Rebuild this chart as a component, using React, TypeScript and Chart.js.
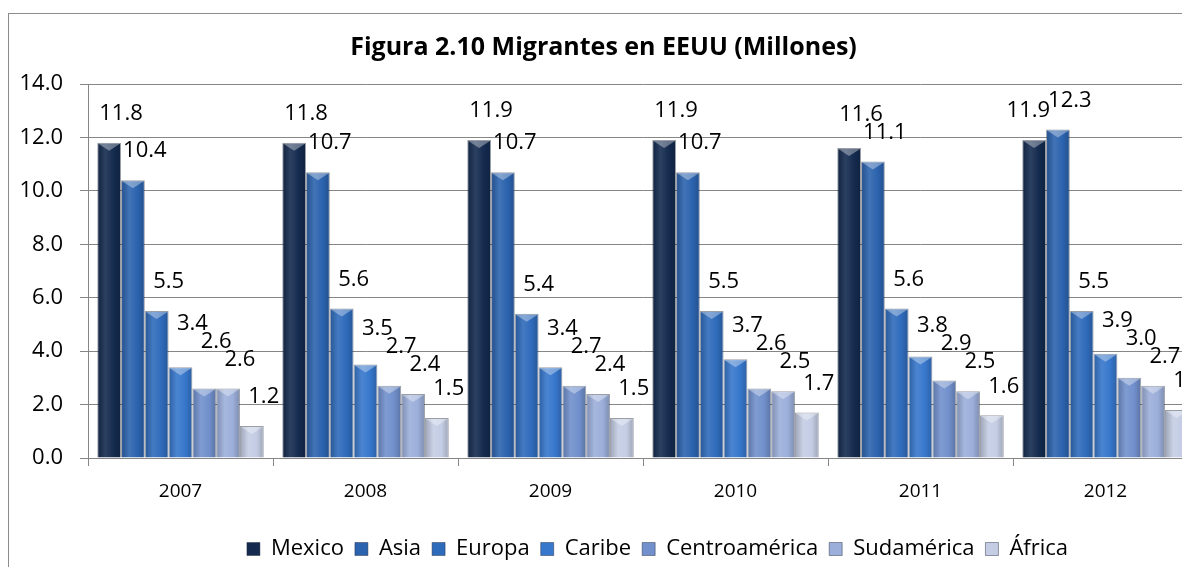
import React, { useEffect, useRef } from "react";
import { Chart, registerables } from "chart.js";

Chart.register(...registerables);

const categories = ["2007", "2008", "2009", "2010", "2011", "2012"];
const seriesNames = ["Mexico", "Asia", "Europa", "Caribe", "Centroamérica", "Sudamérica", "África"];
const mexico = [11.8, 11.8, 11.9, 11.9, 11.6, 11.9];
const asia = [10.4, 10.7, 10.7, 10.7, 11.1, 12.3];
const europa = [5.5, 5.6, 5.4, 5.5, 5.6, 5.5];
const caribe = [3.4, 3.5, 3.4, 3.7, 3.8, 3.9];
const centroamerica = [2.6, 2.7, 2.7, 2.6, 2.9, 3.0];
const sudamerica = [2.6, 2.4, 2.4, 2.5, 2.5, 2.7];
const africa = [1.2, 1.5, 1.5, 1.7, 1.6, 1.8];
const yTicks = [0, 2, 4, 6, 8, 10, 12, 14];

const seriesValues = [mexico, asia, europa, caribe, centroamerica, sudamerica, africa];
const baseColors = ["#142B4F", "#2C63AE", "#2F6BBB", "#3777CC", "#7190CC", "#9CAFDA", "#C4CDE4"];

const FONT = "'Open Sans', 'Noto Sans', sans-serif";

function shade(hex: string, f: number): string {
  const n = parseInt(hex.slice(1), 16);
  let r = (n >> 16) & 255, g = (n >> 8) & 255, b = n & 255;
  if (f >= 1) {
    const t = f - 1;
    r = r + (255 - r) * t; g = g + (255 - g) * t; b = b + (255 - b) * t;
  } else {
    r *= f; g *= f; b *= f;
  }
  return `rgb(${Math.round(r)},${Math.round(g)},${Math.round(b)})`;
}

const gradientPlugin = {
  id: "barGradient",
  afterDatasetsUpdate(chart: any) {
    const ctx = chart.ctx;
    chart.data.datasets.forEach((ds: any, di: number) => {
      const meta = chart.getDatasetMeta(di);
      const base = baseColors[di];
      meta.data.forEach((el: any) => {
        const l = el.x - el.width / 2;
        const r = el.x + el.width / 2;
        const g = ctx.createLinearGradient(l, 0, r, 0);
        g.addColorStop(0, shade(base, 0.8));
        g.addColorStop(0.35, shade(base, 1.1));
        g.addColorStop(0.7, shade(base, 1.0));
        g.addColorStop(1, shade(base, 0.8));
        el.options = Object.assign({}, el.options, { backgroundColor: g });
      });
    });
  },
};

const bevelAndLabelsPlugin = {
  id: "bevelLabels",
  afterDatasetsDraw(chart: any) {
    const ctx = chart.ctx;
    chart.data.datasets.forEach((ds: any, di: number) => {
      const meta = chart.getDatasetMeta(di);
      meta.data.forEach((el: any) => {
        const l = el.x - el.width / 2;
        const r = el.x + el.width / 2;
        ctx.save();
        ctx.beginPath();
        ctx.moveTo(l + 1, el.y + 1);
        ctx.lineTo(r - 1, el.y + 1);
        ctx.lineTo(el.x, el.y + 8);
        ctx.closePath();
        ctx.fillStyle = "rgba(255,255,255,0.35)";
        ctx.fill();
        ctx.restore();
      });
    });
    ctx.save();
    ctx.font = `22px ${FONT}`;
    ctx.fillStyle = "#000";
    ctx.textAlign = "center";
    ctx.textBaseline = "middle";
    const n = chart.data.labels.length;
    const h = 18;
    for (let i = 0; i < n; i++) {
      const placed: { x: number; y: number; w: number }[] = [];
      for (let di = chart.data.datasets.length - 1; di >= 0; di--) {
        const el = chart.getDatasetMeta(di).data[i];
        const v = chart.data.datasets[di].data[i];
        const txt = Number(v).toFixed(1);
        const w = ctx.measureText(txt).width;
        let x = el.x + el.width / 2;
        let y = el.y - 29;
        let moved = true;
        let guard = 0;
        while (moved && guard++ < 20) {
          moved = false;
          for (const p of placed) {
            const need = (p.w + w) / 2 - 4;
            if (Math.abs(p.x - x) < need && Math.abs(p.y - y) < h) {
              if (p.y < y - 4) {
                x = p.x - need - 2;
              } else {
                y = p.y - h;
              }
              moved = true;
            }
          }
        }
        placed.push({ x, y, w });
        ctx.fillText(txt, x, y);
      }
    }
    ctx.restore();
  },
};

const legendShiftPlugin = {
  id: "legendShift",
  afterLayout(chart: any) {
    if (chart.legend) {
      chart.legend.left += 54;
      chart.legend.right += 54;
    }
  },
};

export default function App() {
  const ref = useRef<HTMLCanvasElement>(null);
  useEffect(() => {
    if (!ref.current) return;
    const chart = new Chart(ref.current, {
      type: "bar",
      data: {
        labels: categories,
        datasets: seriesNames.map((name, i) => ({
          label: name,
          data: seriesValues[i],
          backgroundColor: baseColors[i],
          borderColor: "rgba(30,40,60,0.45)",
          borderWidth: 1,
          categoryPercentage: 0.9,
          barPercentage: 1.0,
        })),
      },
      options: {
        responsive: false,
        animation: false,
        layout: { padding: { left: 0, right: 3, top: 0, bottom: 0 } },
        plugins: {
          title: {
            display: true,
            text: "Figura 2.10 Migrantes en EEUU (Millones)",
            color: "#000",
            font: { family: FONT, size: 25, weight: "bold" },
            padding: { top: 19, bottom: 21 },
          },
          legend: {
            position: "bottom",
            labels: {
              color: "#000",
              font: { family: FONT, size: 22 },
              boxWidth: 13,
              boxHeight: 13,
              padding: 11,
            },
          },
          tooltip: { enabled: false },
        },
        scales: {
          x: {
            afterFit: (s: any) => { s.height = 69; },
            grid: {
              display: true,
              drawOnChartArea: false,
              drawTicks: true,
              tickLength: 8,
              color: "#868686",
            },
            border: { display: true, color: "#868686" },
            ticks: { color: "#000", font: { family: FONT, size: 19 }, padding: 14 },
          },
          y: {
            min: 0,
            max: 14,
            afterFit: (s: any) => { s.width = 79; },
            afterBuildTicks: (s: any) => { s.ticks = yTicks.map((v) => ({ value: v })); },
            grid: { color: "#868686", tickLength: 8, drawTicks: true },
            border: { display: true, color: "#868686" },
            ticks: {
              color: "#000",
              font: { family: FONT, size: 22 },
              padding: 17,
              callback: (v: any) => Number(v).toFixed(1),
            },
          },
        },
      },
      plugins: [gradientPlugin, bevelAndLabelsPlugin, legendShiftPlugin],
    } as any);
    return () => chart.destroy();
  }, []);

  return (
    <div style={{ position: "relative", width: 1182, height: 559, overflow: "hidden" }}>
      <div
        style={{
          position: "absolute",
          left: 0,
          top: 5,
          width: 1300,
          height: 700,
          border: "1px solid #8c8c8c",
          boxSizing: "border-box",
          background: "#fff",
        }}
      >
        <canvas ref={ref} width={1192} height={556} style={{ display: "block" }} />
      </div>
    </div>
  );
}
